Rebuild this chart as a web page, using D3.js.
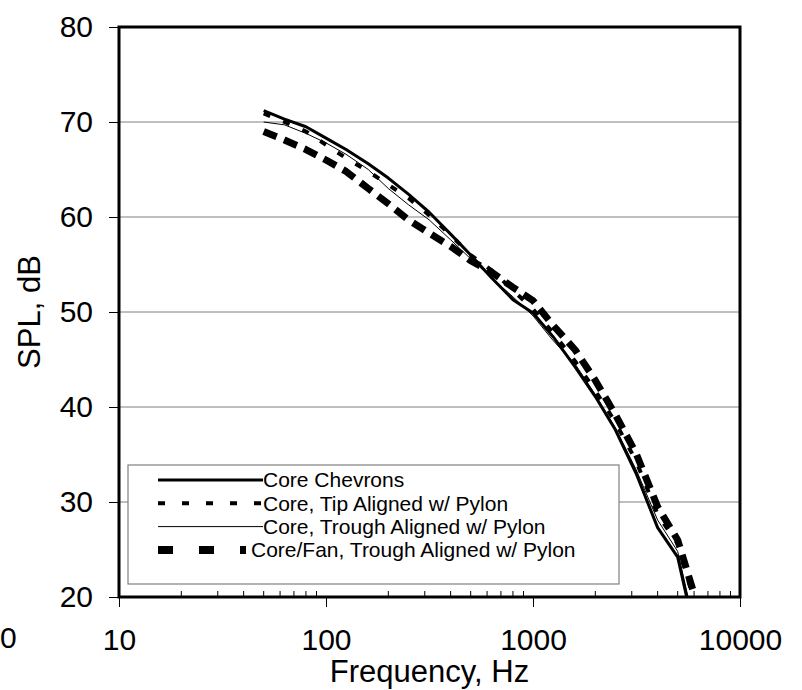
<!DOCTYPE html>
<html>
<head>
<meta charset="utf-8">
<script src="https://cdnjs.cloudflare.com/ajax/libs/d3/7.8.5/d3.min.js"></script>
<style>
  body { margin: 0; background: #fff; }
  svg { display: block; font-family: "Liberation Sans", Arial, sans-serif; }
  .tick text { font-size: 30px; fill: #000; }
  .domain { display: none; }
</style>
</head>
<body>
<div class="chart-wrapper"></div>
<script>

const freqs = [50, 63, 80, 100, 125, 160, 200, 250, 315, 400, 500, 630, 800, 1000, 1250, 1600, 2000, 2500, 3150, 4000, 5000, 6300]

const coreChevrons = [71.2, 70.3, 69.5, 68.3, 67.1, 65.6, 64.1, 62.4, 60.5, 58.2, 56.0, 53.6, 51.3, 49.9, 47.4, 44.2, 41.1, 37.6, 33.0, 27.3, 24.2, 14.5]
const tipAligned = [70.9, 70.0, 69.0, 67.6, 66.2, 64.8, 63.4, 62.0, 60.2, 58.1, 56.0, 54.4, 52.3, 50.3, 47.8, 44.8, 41.7, 38.4, 34.3, 28.7, 25.6, 18.0]
const troughAligned = [70.0, 69.7, 68.8, 67.8, 66.6, 65.0, 63.0, 61.3, 59.7, 57.6, 55.6, 53.6, 51.6, 49.6, 47.0, 44.5, 41.3, 37.8, 33.4, 28.1, 24.8, 15.2]
const coreFanTrough = [69.0, 68.1, 67.1, 66.0, 64.8, 63.0, 61.4, 59.7, 58.3, 56.9, 55.4, 54.2, 52.6, 51.2, 48.6, 46.0, 42.8, 39.2, 35.1, 29.5, 26.0, 18.8]

const seriesNames = ['Core Chevrons', 'Core, Tip Aligned w/ Pylon', 'Core, Trough Aligned w/ Pylon', 'Core/Fan, Trough Aligned w/ Pylon']
const xTicks = [10, 100, 1000, 10000]
const yTicks = [20, 30, 40, 50, 60, 70, 80]

const series = [
    {name: seriesNames[0], values: coreChevrons, width: 3, dash: null, legendDash: null},
    {name: seriesNames[1], values: tipAligned, width: 4, dash: '7,14', legendDash: '7,17'},
    {name: seriesNames[2], values: troughAligned, width: 1, dash: null, legendDash: null},
    {name: seriesNames[3], values: coreFanTrough, width: 7, dash: '14,8', legendDash: '15,26'}
]

const width = 802
const height = 690
const plotLeft = 119, plotRight = 740, plotTop = 27, plotBottom = 597

const x = d3.scaleLog()
.domain([10, 10000])
.range([plotLeft, plotRight])

const y = d3.scaleLinear()
.domain([20, 80])
.range([plotBottom, plotTop])

const svg = d3.select('.chart-wrapper')
.append('svg')
.attr('width', width)
.attr('height', height)

svg.append('clipPath')
.attr('id', 'plot-clip')
.append('rect')
.attr('x', plotLeft)
.attr('y', plotTop)
.attr('width', plotRight - plotLeft)
.attr('height', plotBottom - plotTop)

// gridlines
svg.append('g')
.selectAll('line')
.data(yTicks.filter(d => d > 20 && d < 80))
.enter()
.append('line')
.attr('x1', plotLeft)
.attr('x2', plotRight)
.attr('y1', d => y(d))
.attr('y2', d => y(d))
.attr('stroke', '#808080')
.attr('stroke-width', 1)

// y axis
const yAxis = svg.append('g')
.attr('transform', `translate(${plotLeft},0)`)
.call(d3.axisLeft(y).tickValues(yTicks).tickSize(10).tickPadding(16).tickFormat(d => d))

yAxis.selectAll('.tick line').attr('stroke', '#000')

// x axis, majors
const xAxis = svg.append('g')
.attr('transform', `translate(0,${plotBottom})`)
.call(d3.axisBottom(x).tickValues(xTicks).tickSize(10).tickPadding(22).tickFormat(d => d))

xAxis.selectAll('.tick line').attr('stroke', '#000')

// minor ticks, drawn inward
const minors = []
xTicks.slice(0, -1).map(d => {
    for (let m = 2; m < 10; m++) minors.push(d * m)
})

svg.append('g')
.selectAll('line')
.data(minors)
.enter()
.append('line')
.attr('x1', d => x(d))
.attr('x2', d => x(d))
.attr('y1', plotBottom)
.attr('y2', plotBottom - 6)
.attr('stroke', '#000')
.attr('stroke-width', 1)

// curves
const line = d3.line()
.x((d, i) => x(freqs[i]))
.y(d => y(d))

svg.append('g')
.attr('clip-path', 'url(#plot-clip)')
.selectAll('path')
.data(series)
.enter()
.append('path')
.attr('d', d => line(d.values))
.attr('fill', 'none')
.attr('stroke', '#000')
.attr('stroke-width', d => d.width)
.attr('stroke-dasharray', d => d.dash)
.attr('stroke-linejoin', 'round')

// frame
svg.append('rect')
.attr('x', plotLeft)
.attr('y', plotTop)
.attr('width', plotRight - plotLeft)
.attr('height', plotBottom - plotTop)
.attr('fill', 'none')
.attr('stroke', '#000')
.attr('stroke-width', 3)

// legend
const legend = svg.append('g')
.attr('transform', 'translate(128,465)')

legend.append('rect')
.attr('width', 491)
.attr('height', 119)
.attr('fill', '#fff')
.attr('stroke', '#808080')
.attr('stroke-width', 1.2)

const rows = legend.selectAll('.row')
.data(series)
.enter()
.append('g')
.attr('class', 'row')
.attr('transform', (d, i) => `translate(0,${15 + i * 23.3})`)

rows.append('line')
.attr('x1', 30)
.attr('x2', (d, i) => i === 3 ? 118 : 135)
.attr('stroke', '#000')
.attr('stroke-width', d => d.width === 7 ? 8 : d.width)
.attr('stroke-dasharray', d => d.legendDash)

rows.append('text')
.attr('x', (d, i) => i === 3 ? 123 : 135)
.attr('dy', '0.35em')
.attr('font-size', 21)
.text(d => d.name)

// axis titles
svg.append('text')
.attr('x', (plotLeft + plotRight) / 2)
.attr('y', 682)
.attr('text-anchor', 'middle')
.attr('font-size', 31)
.text('Frequency, Hz')

svg.append('text')
.attr('transform', `translate(40,${(plotTop + plotBottom) / 2}) rotate(-90)`)
.attr('text-anchor', 'middle')
.attr('font-size', 31)
.text('SPL, dB')

// stray label at the far left edge
svg.append('text')
.attr('x', 0)
.attr('y', 648)
.attr('font-size', 30)
.text('0')

</script>
</body>
</html>
